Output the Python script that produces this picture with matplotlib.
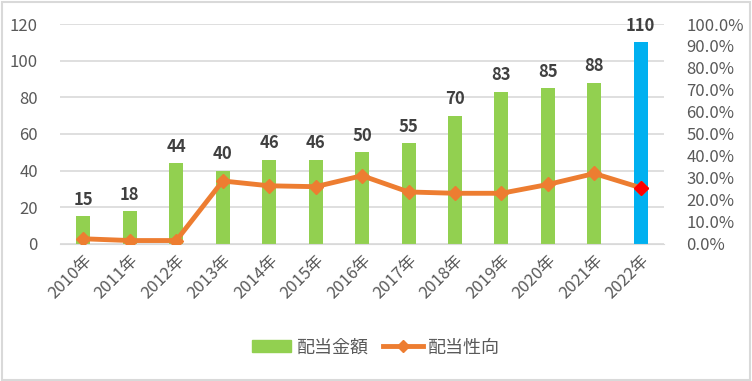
import numpy as np
import matplotlib.pyplot as plt
from matplotlib.lines import Line2D
from matplotlib.patches import Patch

plt.rcParams['font.family'] = ['Noto Sans CJK JP', 'DejaVu Sans']

years = ['2010年', '2011年', '2012年', '2013年', '2014年', '2015年', '2016年',
         '2017年', '2018年', '2019年', '2020年', '2021年', '2022年']
amount = [15, 18, 44, 40, 46, 46, 50, 55, 70, 83, 85, 88, 110]
payout = [2.3, 1.5, 1.5, 28.6, 26.4, 26.0, 31.0, 23.6, 23.0, 23.0, 27.0, 32.0, 25.5]

fig = plt.figure(figsize=(7.52, 3.81), dpi=100)
fig.patches.append(plt.Rectangle((0.002, 0.003), 0.995, 0.993, transform=fig.transFigure,
                                 fill=False, edgecolor='#d9d9d9', linewidth=1.5))
ax = fig.add_axes([0.08, 0.36, 0.803, 0.577])
ax2 = ax.twinx()

x = np.arange(len(years))
colors = ['#92D050'] * (len(years) - 1) + ['#00B0F0']
ax.bar(x, amount, width=0.3, color=colors, zorder=2)
for xi, v in zip(x, amount):
    ax.text(xi, v + 4, str(v), ha='center', va='bottom', fontsize=12,
            fontweight='bold', color='#404040')

ax2.plot(x, payout, color='#ED7D31', linewidth=3.5, marker='D', markersize=7, zorder=3)
ax2.plot(x[-1], payout[-1], marker='D', markersize=7, color='#FF0000', zorder=4)

ax.set_ylim(0, 120)
ax.set_yticks(range(0, 121, 20))
ax2.set_ylim(0, 100)
ax2.set_yticks(range(0, 101, 10))
ax2.set_yticklabels([f'{v:.1f}%' for v in range(0, 101, 10)])
ax.set_xlim(-0.5, len(years) - 0.5)
ax.set_xticks(x)
ax.set_xticklabels(years, rotation=45, ha='right', rotation_mode='anchor')

ax.grid(axis='y', color='#d9d9d9', linewidth=1.2, zorder=0)
ax.set_axisbelow(True)
for a in (ax, ax2):
    for s in a.spines.values():
        s.set_visible(False)
    a.tick_params(length=0, colors='#595959', labelsize=12)
ax.spines['bottom'].set_visible(True)
ax.spines['bottom'].set_color('#d9d9d9')
ax.tick_params(axis='y', pad=16)
ax.tick_params(axis='x', pad=6)
ax2.tick_params(axis='y', pad=16)

handles = [Patch(color='#92D050'),
           Line2D([0], [0], color='#ED7D31', linewidth=3.5, marker='D', markersize=6)]
fig.legend(handles, ['配当金額', '配当性向'], loc='center', bbox_to_anchor=(0.5, 0.088),
           ncol=2, frameon=False, fontsize=13, labelcolor='#595959',
           handlelength=2.2, columnspacing=0.8, handletextpad=0.3)

fig.savefig('out.png', dpi=100)
